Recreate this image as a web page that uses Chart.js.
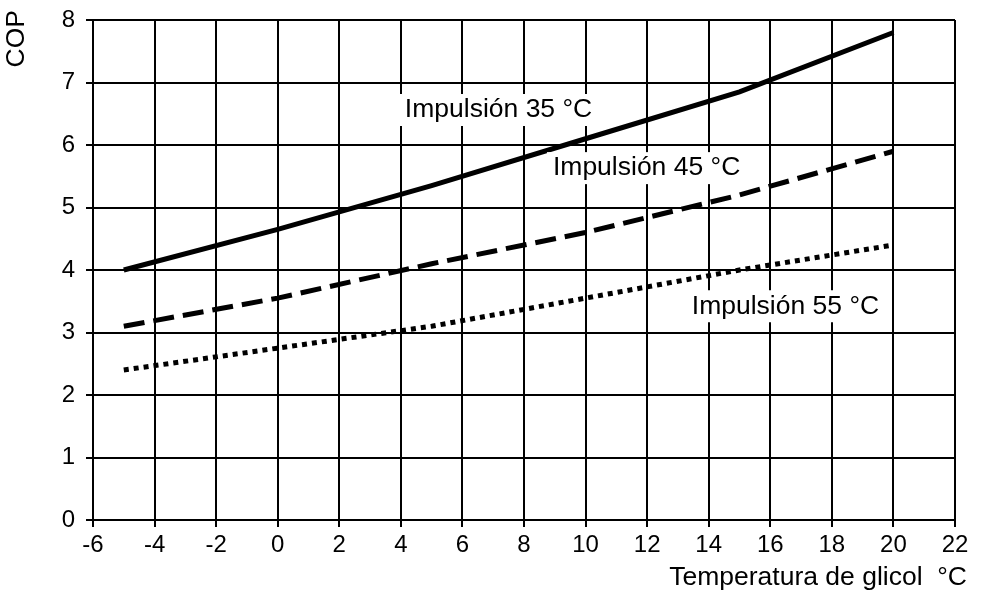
<!DOCTYPE html>
<html lang="es">
<head>
    <meta charset="UTF-8">
    <title>COP vs temperatura de glicol</title>
    <script src="https://cdn.jsdelivr.net/npm/chart.js"></script>
    <style>
        body { margin: 0; background: #fff; }
        #wrap { width: 987px; height: 592px; }
    </style>
</head>
<body>
    <div id="wrap"><canvas id="copChart" width="987" height="592"></canvas></div>

    <script>
        // glycol temperature (°C)
        const temps = [-5, 0, 5, 10, 15, 20];
        // COP per flow temperature
        const cop35 = [4.0, 4.65, 5.35, 6.1, 6.85, 7.8];
        const cop45 = [3.1, 3.55, 4.1, 4.6, 5.2, 5.9];
        const cop55 = [2.4, 2.75, 3.1, 3.55, 4.0, 4.4];

        const seriesNames = ['Impulsión 35 °C', 'Impulsión 45 °C', 'Impulsión 55 °C'];
        // where each curve label sits (data coords: left x, centre y)
        const labelX = [4.13, 8.94, 13.45];
        const labelY = [6.56, 5.63, 3.42];

        const xTicks = [-6, -4, -2, 0, 2, 4, 6, 8, 10, 12, 14, 16, 18, 20, 22];
        const yTicks = [0, 1, 2, 3, 4, 5, 6, 7, 8];

        const family = 'Liberation Sans, Arial, sans-serif';
        const tickFont = { family: family, size: 24 };

        function pts(vals) {
            return temps.map((t, i) => ({ x: t, y: vals[i] }));
        }

        // curve labels with white boxes plus the two axis titles
        const curveLabels = {
            id: 'curveLabels',
            afterDatasetsDraw(chart) {
                const ctx = chart.ctx;
                const xs = chart.scales.x, ys = chart.scales.y;
                ctx.save();
                ctx.font = '26.5px ' + family;
                ctx.textBaseline = 'middle';
                seriesNames.forEach((name, i) => {
                    const px = xs.getPixelForValue(labelX[i]);
                    const py = ys.getPixelForValue(labelY[i]);
                    const w = ctx.measureText(name).width;
                    ctx.fillStyle = '#fff';
                    ctx.fillRect(px - 6, py - 16, w + 10, 32);
                    ctx.fillStyle = '#000';
                    ctx.fillText(name, px, py);
                });

                ctx.textAlign = 'right';
                ctx.fillText('Temperatura de glicol  °C', 967, 578);

                ctx.translate(17, 10);
                ctx.rotate(-Math.PI / 2);
                ctx.textAlign = 'right';
                ctx.fillText('COP', 0, 0);
                ctx.restore();
            }
        };

        new Chart(document.getElementById('copChart'), {
            type: 'line',
            data: {
                datasets: [
                    { label: seriesNames[0], data: pts(cop35), borderColor: '#000', borderWidth: 5 },
                    { label: seriesNames[1], data: pts(cop45), borderColor: '#000', borderWidth: 5, borderDash: [21, 9] },
                    { label: seriesNames[2], data: pts(cop55), borderColor: '#000', borderWidth: 5, borderDash: [5, 5] }
                ]
            },
            options: {
                responsive: false,
                animation: false,
                layout: { padding: { top: 20, right: 32, left: 0, bottom: 0 } },
                elements: { point: { radius: 0 }, line: { tension: 0 } },
                plugins: { legend: { display: false }, tooltip: { enabled: false } },
                scales: {
                    x: {
                        type: 'linear',
                        min: -6, max: 22,
                        afterBuildTicks: s => { s.ticks = xTicks.map(v => ({ value: v })); },
                        afterFit: s => { s.height = 72; },
                        grid: { color: '#000', lineWidth: 2, tickLength: 7 },
                        border: { color: '#000', width: 2 },
                        ticks: { color: '#000', font: tickFont, padding: 4, maxRotation: 0 }
                    },
                    y: {
                        min: 0, max: 8,
                        afterBuildTicks: s => { s.ticks = yTicks.map(v => ({ value: v })); },
                        afterFit: s => { s.width = 93; s.paddingTop = 0; s.paddingBottom = 0; },
                        grid: { color: '#000', lineWidth: 2, tickLength: 7 },
                        border: { color: '#000', width: 2 },
                        ticks: { color: '#000', font: tickFont, padding: 11 }
                    }
                }
            },
            plugins: [curveLabels]
        });
    </script>
</body>
</html>
